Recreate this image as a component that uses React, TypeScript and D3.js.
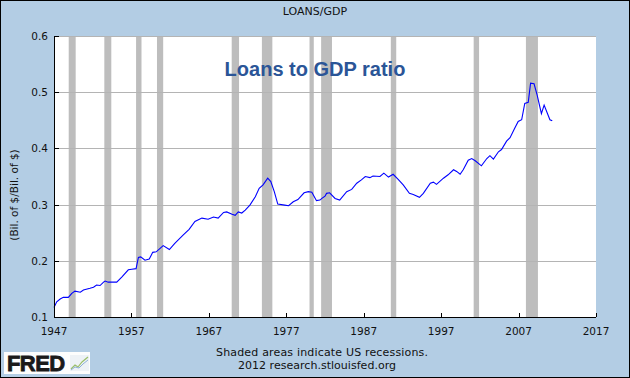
import React from "react";
import * as d3 from "d3";

const years: number[] = [
  1947.0, 1947.35, 1947.8, 1948.2, 1948.85, 1949.3, 1949.7, 1950.4, 1950.8, 1951.65,
  1952.1, 1952.5, 1952.95, 1953.4, 1953.6, 1954.0, 1955.1, 1955.75, 1956.6, 1957.05,
  1957.6, 1957.9, 1958.2, 1958.75, 1959.3, 1959.75, 1960.2, 1961.1, 1961.9, 1962.6,
  1963.7, 1964.45, 1965.2, 1966.1, 1966.9, 1967.6, 1968.2, 1968.9, 1969.3, 1970.0,
  1970.4, 1970.8, 1971.25, 1971.7, 1972.3, 1973.0, 1973.5, 1974.0, 1974.6, 1975.0,
  1975.45, 1975.9, 1976.8, 1977.3, 1977.9, 1978.5, 1979.3, 1979.85, 1980.3, 1980.9,
  1981.35, 1981.6, 1982.0, 1982.2, 1982.6, 1983.3, 1983.9, 1984.8, 1985.45, 1986.1,
  1986.7, 1987.2, 1987.8, 1988.2, 1989.1, 1989.6, 1990.2, 1990.8, 1991.45, 1992.1,
  1992.9, 1993.4, 1994.2, 1994.7, 1995.6, 1996.0, 1996.4, 1997.3, 1997.9, 1998.6,
  1999.0, 1999.45, 1999.85, 2000.5, 2000.95, 2001.4, 2002.2, 2002.9, 2003.3, 2003.75,
  2004.4, 2004.8, 2005.45, 2005.9, 2006.5, 2006.95, 2007.4, 2007.8, 2008.25, 2008.55,
  2009.0, 2009.4, 2009.95, 2010.3, 2011.05, 2011.35,
];

const ratio: number[] = [
  0.117, 0.127, 0.132, 0.135, 0.135, 0.142, 0.146, 0.144, 0.148, 0.151,
  0.153, 0.157, 0.156, 0.162, 0.164, 0.162, 0.162, 0.171, 0.184, 0.185,
  0.186, 0.206, 0.207, 0.201, 0.203, 0.215, 0.216, 0.227, 0.22, 0.231,
  0.246, 0.256, 0.27, 0.276, 0.274, 0.278, 0.276, 0.286, 0.287, 0.283,
  0.281, 0.287, 0.285, 0.29, 0.299, 0.314, 0.329, 0.335, 0.347, 0.341,
  0.323, 0.301, 0.299, 0.298, 0.305, 0.309, 0.321, 0.323, 0.322, 0.307,
  0.308, 0.311, 0.315, 0.32, 0.321, 0.311, 0.308, 0.323, 0.327, 0.338,
  0.344, 0.35, 0.348, 0.351, 0.35, 0.356, 0.349, 0.354, 0.345, 0.335,
  0.32, 0.318, 0.313, 0.32, 0.338, 0.34, 0.336, 0.347, 0.353, 0.362,
  0.359, 0.354, 0.362, 0.379, 0.382, 0.378, 0.369, 0.382, 0.387, 0.381,
  0.394, 0.398, 0.413, 0.419, 0.436, 0.448, 0.451, 0.48, 0.482, 0.516,
  0.515, 0.495, 0.462, 0.477, 0.451, 0.449,
];

const recessionStart: number[] = [1948.9, 1953.5, 1957.6, 1960.3, 1969.95, 1973.85, 1980.0, 1981.5, 1990.5, 2001.2, 2007.95];
const recessionEnd: number[] = [1949.8, 1954.4, 1958.3, 1961.1, 1970.9, 1975.2, 1980.55, 1982.9, 1991.2, 2001.9, 2009.5];

const xTicks: number[] = [1947, 1957, 1967, 1977, 1987, 1997, 2007, 2017];
const yTicks: number[] = [0.1, 0.2, 0.3, 0.4, 0.5, 0.6];

const W = 630;
const H = 378;
const L = 54;
const R = 596;
const T = 36;
const B = 317;

export default function App() {
  const x = d3.scaleLinear().domain([1947, 2017]).range([L, R]);
  const y = d3.scaleLinear().domain([0.1, 0.6]).range([B, T]);
  const pts: [number, number][] = years.map((yr, i) => [yr, ratio[i]]);
  const line = d3
    .line<[number, number]>()
    .x((d) => x(d[0]))
    .y((d) => y(d[1]));
  const font = "'DejaVu Sans', sans-serif";
  return (
    <div style={{ position: "fixed", left: 0, top: 0, width: W, height: H }}>
      <svg width={W} height={H} style={{ display: "block" }}>
        <rect x={0.5} y={0.5} width={W - 1} height={H - 1} fill="#b3cde4" stroke="#000" />
        <text x={315} y={15} textAnchor="middle" fontFamily={font} fontSize={11} fill="#111">
          LOANS/GDP
        </text>
        <rect x={L} y={T} width={R - L} height={B - T} fill="#fff" />
        {recessionStart.map((s, i) => (
          <rect key={"r" + i} x={x(s)} y={T} width={x(recessionEnd[i]) - x(s)} height={B - T} fill="#bdbdbd" />
        ))}
        {yTicks.filter((t) => t > 0.1).map((t) => (
          <line key={"g" + t} x1={L} x2={R} y1={Math.round(y(t)) + 0.5} y2={Math.round(y(t)) + 0.5} stroke="#b4b4b4" strokeWidth={1} />
        ))}
        <path d={line(pts) || ""} fill="none" stroke="#0000ff" strokeWidth={1.1} />
        <line x1={L + 0.5} x2={L + 0.5} y1={T} y2={B + 1} stroke="#000" />
        <line x1={L} x2={R} y1={B + 0.5} y2={B + 0.5} stroke="#000" />
        {yTicks.map((t) => (
          <g key={"yt" + t}>
            <line x1={L} x2={L + 5} y1={Math.round(y(t)) + 0.5} y2={Math.round(y(t)) + 0.5} stroke="#000" />
            <text x={48} y={y(t) + 4} textAnchor="end" fontFamily={font} fontSize={10.5} fill="#111">
              {t.toFixed(1)}
            </text>
          </g>
        ))}
        {xTicks.map((t) => (
          <g key={"xt" + t}>
            <line x1={Math.round(x(t)) + 0.5} x2={Math.round(x(t)) + 0.5} y1={B - 4} y2={B} stroke="#000" />
            <text x={x(t)} y={335} textAnchor="middle" fontFamily={font} fontSize={10.5} fill="#111">
              {t}
            </text>
          </g>
        ))}
        <text
          transform={`translate(18,195) rotate(-90)`}
          textAnchor="middle"
          fontFamily={font}
          fontSize={10.5}
          fill="#111"
        >
          (Bil. of $/Bil. of $)
        </text>
        <text x={315} y={76} textAnchor="middle" fontFamily="'Liberation Sans', Arial, sans-serif" fontWeight="bold" fontSize={20} fill="#2b5597">
          Loans to GDP ratio
        </text>
        <text x={216} y={356} fontFamily={font} fontSize={11} fill="#111" textLength={212} lengthAdjust="spacing">
          Shaded areas indicate US recessions.
        </text>
        <text x={238} y={369} fontFamily={font} fontSize={11} fill="#111" textLength={158} lengthAdjust="spacing">
          2012 research.stlouisfed.org
        </text>
        <rect x={4} y={352} width={86} height={22} fill="#fdfdfd" />
        <text x={7} y={371} fontFamily="'Liberation Sans', Arial, sans-serif" fontWeight="bold" fontSize={22} fill="#1a1a1a" stroke="#1a1a1a" strokeWidth={0.8} letterSpacing={-0.6}>
          FRED
        </text>
        <rect x={70} y={355} width={19} height={16} fill="#eef2f6" />
        <polyline points="71,369 75,365 78,367 82,362 88,357" fill="none" stroke="#9bbf6a" strokeWidth={1.2} />
        <polyline points="71,370 75,367 79,368 83,364 88,360" fill="none" stroke="#8fb0d6" strokeWidth={1} />
      </svg>
    </div>
  );
}
